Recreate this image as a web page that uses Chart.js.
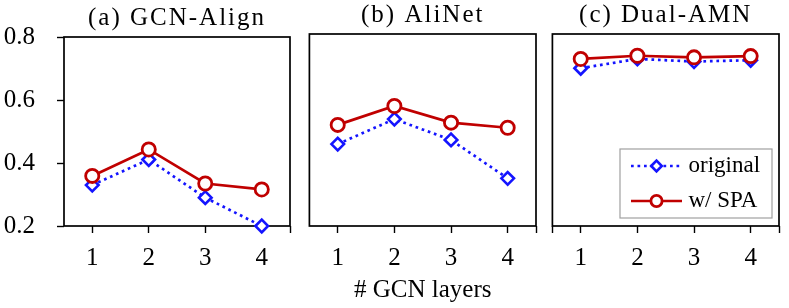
<!DOCTYPE html>
<html><head><meta charset="utf-8">
<script src="https://cdn.jsdelivr.net/npm/chart.js@4.4.1/dist/chart.umd.min.js"></script>
<style>
html,body{margin:0;padding:0;background:#fff;}
#wrap{position:relative;width:789px;height:308px;overflow:hidden;background:#fff;}
canvas{position:absolute;top:0;}
</style></head><body>
<div id="wrap">
<canvas id="ca" width="300" height="308" style="left:0px"></canvas>
<canvas id="cb" width="246" height="308" style="left:300px"></canvas>
<canvas id="cc" width="246" height="308" style="left:543px"></canvas>
</div>
<script>
// ---- data ----
const layers = [1, 2, 3, 4];
const yTicks = [0.2, 0.4, 0.6, 0.8];
const panelTitles = ['(a) GCN-Align', '(b) AliNet', '(c) Dual-AMN'];
const seriesNames = ['original', 'w/ SPA'];
const xAxisTitle = '# GCN layers';
const gcnOriginal = [0.330, 0.411, 0.290, 0.200];
const gcnSPA      = [0.359, 0.443, 0.335, 0.316];
const aliOriginal = [0.456, 0.534, 0.469, 0.349];
const aliSPA      = [0.516, 0.575, 0.523, 0.507];
const dualOriginal = [0.693, 0.722, 0.714, 0.718];
const dualSPA      = [0.722, 0.732, 0.727, 0.731];

// ---- styles ----
const FONT = "'Liberation Serif', 'Times New Roman', serif";
const BLUE = '#1414ff';
const RED = '#c00000';

function pts(vals) { return vals.map((v, i) => ({ x: layers[i], y: v })); }

const titleSpacing = {
  id: 'titleSpacing',
  beforeDraw(chart) {
    const tb = chart.titleBlock;
    if (tb && !tb._spaced) {
      const orig = tb.draw.bind(tb);
      tb.draw = function () {
        const ctx = chart.ctx;
        ctx.save();
        ctx.letterSpacing = '2px';
        orig();
        ctx.restore();
      };
      tb._spaced = true;
    }
  }
};

const frame = {
  id: 'frame',
  beforeDatasetsDraw(chart) {
    const a = chart.chartArea, ctx = chart.ctx;
    ctx.save();
    ctx.strokeStyle = '#000';
    ctx.lineWidth = 1.7;
    ctx.strokeRect(a.left, a.top, a.right - a.left, a.bottom - a.top);
    ctx.restore();
  }
};

const legendBox = {
  id: 'legendBox',
  afterDraw(chart) {
    const a = chart.chartArea, ctx = chart.ctx;
    const right = a.right - 7, bottom = a.bottom - 8;
    const w = 152, h = 69;
    const left = right - w, top = bottom - h;
    ctx.save();
    ctx.fillStyle = '#fff';
    ctx.fillRect(left, top, w, h);
    ctx.strokeStyle = '#a0a0a0';
    ctx.lineWidth = 1.2;
    ctx.strokeRect(left, top, w, h);
    const ds = chart.data.datasets;
    const rows = [top + 17, top + 52];
    [0, 1].forEach((di, r) => {
      const d = ds[di];
      const y = rows[r];
      const x0 = left + 11, x1 = left + 62, xm = (x0 + x1) / 2;
      ctx.beginPath();
      ctx.setLineDash(d.borderDash || []);
      ctx.strokeStyle = d.borderColor;
      ctx.lineWidth = d.borderWidth;
      ctx.moveTo(x0, y); ctx.lineTo(x1, y); ctx.stroke();
      ctx.setLineDash([]);
      ctx.fillStyle = '#fff';
      ctx.strokeStyle = d.borderColor;
      ctx.lineWidth = d.pointBorderWidth;
      Chart.helpers.drawPoint(ctx, {
        pointStyle: d.pointStyle, radius: d.pointRadius - 1, borderWidth: d.pointBorderWidth, rotation: 0
      }, xm, y);
      ctx.fillStyle = '#000';
      ctx.font = "23px 'Liberation Serif'";
      ctx.textBaseline = 'middle';
      ctx.textAlign = 'left';
      ctx.fillText(d.label, left + 68.5, y);
    });
    ctx.restore();
  }
};

function makeChart(id, title, orig, spa, opts) {
  const datasets = [
    {
      label: seriesNames[0], data: pts(orig), order: 2,
      borderColor: BLUE, backgroundColor: '#fff', borderWidth: 2.7,
      borderDash: [2.7, 3.8], pointStyle: 'rectRot', pointRadius: 6.3,
      pointBorderWidth: 2.6, pointBackgroundColor: '#fff', pointBorderColor: BLUE,
      clip: false, tension: 0
    },
    {
      label: seriesNames[1], data: pts(spa), order: 1,
      borderColor: RED, backgroundColor: '#fff', borderWidth: 2.7,
      pointStyle: 'circle', pointRadius: 6.6,
      pointBorderWidth: 2.8, pointBackgroundColor: '#fff', pointBorderColor: RED,
      clip: false, tension: 0
    }
  ];
  const xTickVals = layers.concat(opts.edgeTicks);
  return new Chart(document.getElementById(id), {
    type: 'line',
    data: { datasets },
    options: {
      responsive: false, animation: false, devicePixelRatio: 1,
      layout: { padding: { left: opts.padL, right: opts.padR, top: 0, bottom: 0 } },
      plugins: {
        legend: { display: false },
        tooltip: { enabled: false },
        title: {
          display: true, text: title, color: '#000', fullSize: false,
          font: { family: FONT, size: 25, weight: 'normal', lineHeight: 1.2 },
          padding: { top: 0, bottom: 4 }
        }
      },
      scales: {
        x: {
          type: 'linear', min: 0.5, max: 4.5,
          afterBuildTicks(s) { s.ticks = xTickVals.map(v => ({ value: v })); },
          afterFit(s) { s.height = 82; },
          border: { display: false },
          grid: { drawOnChartArea: false, drawTicks: true, tickLength: 7, tickColor: '#000', tickWidth: 1.4 },
          ticks: {
            autoSkip: false, maxRotation: 0, padding: 10, color: '#000',
            font: { family: FONT, size: 25 },
            callback: (v) => (layers.includes(v) ? String(v) : '')
          },
          title: {
            display: opts.showXTitle, text: xAxisTitle, color: '#000',
            font: { family: FONT, size: 25, lineHeight: 1.2 },
            padding: { top: 0, bottom: 3 }
          }
        },
        y: {
          type: 'linear', min: 0.2, max: 0.8, display: opts.showY,
          afterBuildTicks(s) { s.ticks = yTicks.map(v => ({ value: v })); },
          afterFit(s) { s.width = opts.showY ? 64 : 0; },
          border: { display: false },
          grid: { drawOnChartArea: false, drawTicks: true, tickLength: 7, tickColor: '#000', tickWidth: 1.4 },
          ticks: {
            padding: 22, color: '#000',
            font: { family: FONT, size: 25 },
            callback: (v) => v.toFixed(1)
          }
        }
      }
    },
    plugins: [titleSpacing, frame].concat(opts.legend ? [legendBox] : [])
  });
}

makeChart('ca', panelTitles[0], gcnOriginal, gcnSPA,
  { padL: 0, padR: 3, showY: true, showXTitle: false, edgeTicks: [4.5], legend: false });
makeChart('cb', panelTitles[1], aliOriginal, aliSPA,
  { padL: 7, padR: 7, showY: false, showXTitle: true, edgeTicks: [4.5], legend: false });
makeChart('cc', panelTitles[2], dualOriginal, dualSPA,
  { padL: 7, padR: 7, showY: false, showXTitle: false, edgeTicks: [0.5, 4.5], legend: true });
</script>
</body></html>
